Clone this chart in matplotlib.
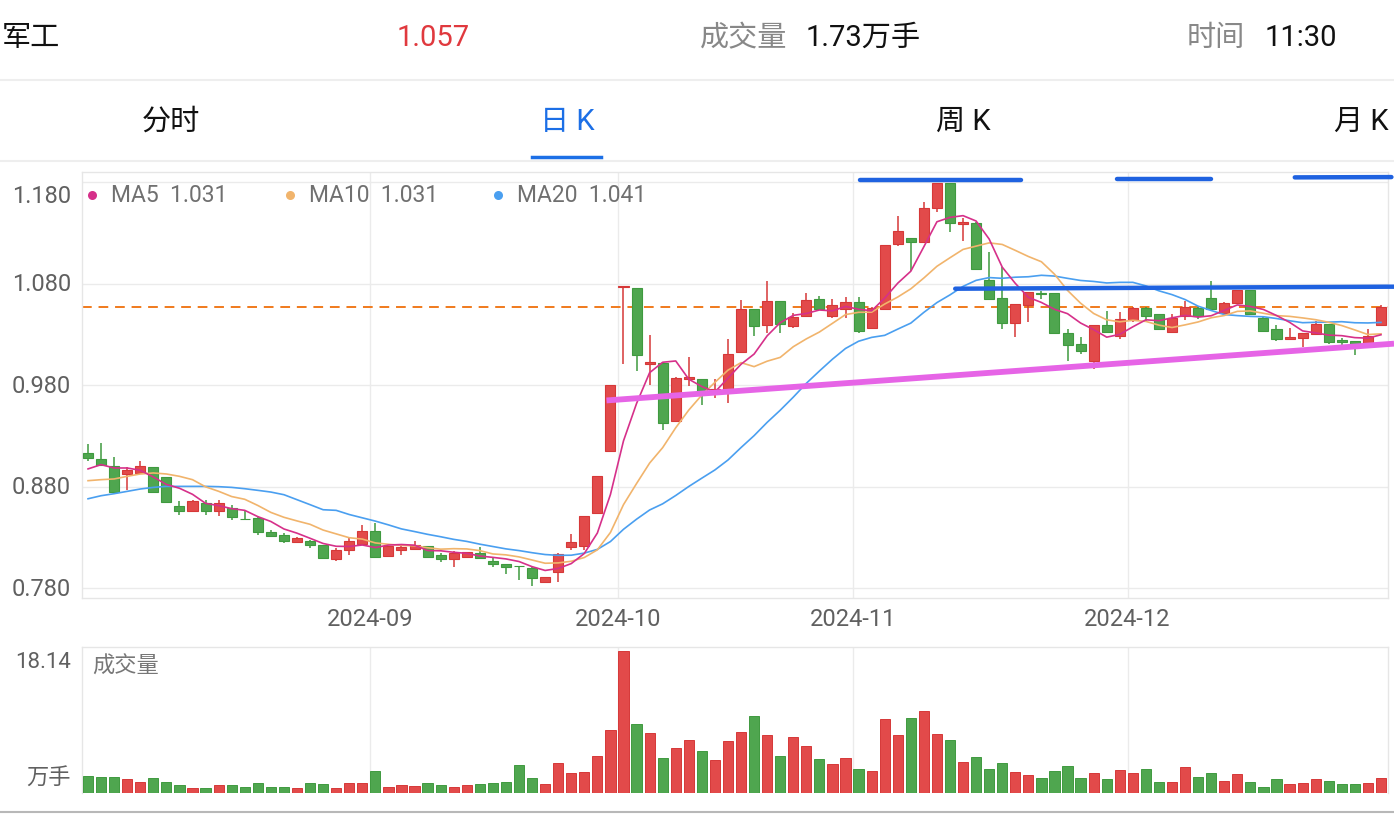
import numpy as np
import pandas as pd
import matplotlib
matplotlib.use("Agg")
import matplotlib.pyplot as plt
from matplotlib.transforms import blended_transform_factory, ScaledTranslation
from matplotlib.patches import Rectangle
from matplotlib.lines import Line2D

plt.rcParams['font.family'] = ['Roboto', 'Noto Sans CJK SC', 'DejaVu Sans']

# ---------------- data ----------------
opens = [0.9130, 0.9076, 0.9000, 0.8920, 0.8930, 0.8990, 0.8900, 0.8606, 0.8556, 0.8638,
         0.8556, 0.8589, 0.8484, 0.8490, 0.8349, 0.8326, 0.8254, 0.8267, 0.8221, 0.8090,
         0.8178, 0.8234, 0.8366, 0.8113, 0.8172, 0.8188, 0.8218, 0.8129, 0.8090, 0.8106,
         0.8145, 0.8073, 0.8040, 0.8020, 0.7997, 0.7866, 0.7964, 0.8204, 0.8218, 0.8545,
         0.9149, 1.0770, 1.0754, 1.0011, 1.0020, 0.9445, 0.9856, 0.9856, 0.9720, 0.9757,
         1.0126, 1.0546, 1.0389, 1.0629, 1.0382, 1.0481, 1.0652, 1.0481, 1.0547, 1.0619,
         1.0366, 1.0547, 1.1188, 1.1247, 1.1211, 1.1540, 1.1790, 1.1382, 1.1395, 1.0836,
         1.0662, 1.0408, 1.0586, 1.0705, 1.0704, 1.0310, 1.0208, 1.0037, 1.0392, 1.0284,
         1.0441, 1.0563, 1.0497, 1.0323, 1.0481, 1.0563, 1.0655, 1.0514, 1.0612, 1.0737,
         1.0464, 1.0349, 1.0257, 1.0267, 1.0300, 1.0398, 1.0247, 1.0231, 1.0194, 1.0395]
highs = [0.9220, 0.9231, 0.9090, 0.8990, 0.9050, 0.8990, 0.8900, 0.8655, 0.8665, 0.8671,
         0.8671, 0.8622, 0.8556, 0.8507, 0.8369, 0.8342, 0.8300, 0.8277, 0.8224, 0.8195,
         0.8294, 0.8425, 0.8442, 0.8220, 0.8228, 0.8261, 0.8220, 0.8145, 0.8162, 0.8155,
         0.8211, 0.8096, 0.8043, 0.8024, 0.8014, 0.7915, 0.8145, 0.8336, 0.8514, 0.8908,
         0.9803, 1.0777, 1.0754, 1.0293, 1.0020, 0.9883, 1.0075, 0.9860, 0.9856, 1.0258,
         1.0639, 1.0550, 1.0826, 1.0632, 1.0514, 1.0704, 1.0678, 1.0645, 1.0668, 1.0668,
         1.0566, 1.1182, 1.1468, 1.1250, 1.1600, 1.1793, 1.1793, 1.1448, 1.1408, 1.1106,
         1.0958, 1.0599, 1.0721, 1.0728, 1.0711, 1.0350, 1.0273, 1.0395, 1.0530, 1.0520,
         1.0566, 1.0566, 1.0500, 1.0497, 1.0629, 1.0566, 1.0820, 1.0615, 1.0737, 1.0740,
         1.0467, 1.0389, 1.0366, 1.0313, 1.0431, 1.0401, 1.0260, 1.0234, 1.0349, 1.0586]
lows = [0.9050, 0.9001, 0.8740, 0.8770, 0.8930, 0.8740, 0.8650, 0.8524, 0.8556, 0.8524,
        0.8514, 0.8474, 0.8478, 0.8326, 0.8303, 0.8244, 0.8244, 0.8201, 0.8093, 0.8073,
        0.8129, 0.8228, 0.8103, 0.8110, 0.8129, 0.8185, 0.8100, 0.8057, 0.8014, 0.8103,
        0.8093, 0.8014, 0.7938, 0.7882, 0.7823, 0.7866, 0.7859, 0.8178, 0.8178, 0.8545,
        0.9149, 1.0011, 0.9939, 0.9800, 0.9362, 0.9440, 0.9790, 0.9609, 0.9672, 0.9626,
        1.0120, 1.0283, 1.0316, 1.0316, 1.0366, 1.0478, 1.0550, 1.0465, 1.0458, 1.0316,
        1.0363, 1.0544, 1.1172, 1.0925, 1.1208, 1.1507, 1.1303, 1.1221, 1.0940, 1.0650,
        1.0356, 1.0277, 1.0422, 1.0645, 1.0313, 1.0037, 1.0103, 0.9955, 1.0320, 1.0251,
        1.0420, 1.0431, 1.0346, 1.0320, 1.0441, 1.0454, 1.0544, 1.0500, 1.0600, 1.0494,
        1.0323, 1.0234, 1.0254, 1.0179, 1.0290, 1.0201, 1.0171, 1.0099, 1.0174, 1.0392]
closes = [0.9080, 0.9017, 0.8750, 0.8960, 0.9000, 0.8750, 0.8650, 0.8563, 0.8661, 0.8556,
          0.8638, 0.8500, 0.8480, 0.8352, 0.8316, 0.8270, 0.8294, 0.8228, 0.8096, 0.8178,
          0.8261, 0.8366, 0.8103, 0.8218, 0.8205, 0.8228, 0.8103, 0.8090, 0.8145, 0.8152,
          0.8096, 0.8037, 0.8014, 0.8017, 0.7899, 0.7909, 0.8136, 0.8253, 0.8514, 0.8908,
          0.9803, 1.0777, 1.0093, 1.0030, 0.9422, 0.9866, 0.9879, 0.9731, 0.9760, 1.0109,
          1.0546, 1.0382, 1.0629, 1.0405, 1.0471, 1.0639, 1.0553, 1.0586, 1.0622, 1.0333,
          1.0563, 1.1179, 1.1320, 1.1211, 1.1540, 1.1790, 1.1395, 1.1405, 1.0947, 1.0652,
          1.0408, 1.0596, 1.0718, 1.0694, 1.0316, 1.0192, 1.0136, 1.0392, 1.0323, 1.0455,
          1.0563, 1.0481, 1.0349, 1.0464, 1.0573, 1.0481, 1.0547, 1.0612, 1.0734, 1.0497,
          1.0333, 1.0251, 1.0277, 1.0310, 1.0398, 1.0224, 1.0224, 1.0181, 1.0283, 1.0567]
volumes = [2.13, 2.00, 1.96, 1.71, 1.41, 1.83, 1.37, 0.94, 0.55, 0.64,
           0.98, 0.98, 0.77, 1.28, 0.77, 0.68, 0.64, 1.28, 1.07, 0.64,
           1.28, 1.28, 2.73, 0.68, 1.02, 0.81, 1.19, 1.02, 0.77, 1.02,
           1.07, 1.28, 1.41, 3.50, 1.83, 1.15, 3.84, 2.47, 2.65, 4.69,
           8.02, 18.14, 8.75, 7.64, 4.39, 5.76, 6.70, 5.29, 4.22, 6.61,
           7.77, 9.77, 7.38, 4.69, 7.13, 5.97, 4.31, 3.67, 4.48, 3.07,
           2.77, 9.43, 7.42, 9.56, 10.41, 7.47, 6.74, 3.97, 4.57, 2.99,
           3.84, 2.69, 2.26, 1.83, 2.77, 3.46, 1.83, 2.56, 1.71, 2.94,
           2.52, 3.03, 1.37, 1.41, 3.29, 1.96, 2.56, 1.54, 2.39, 1.37,
           0.77, 1.71, 1.07, 1.28, 1.75, 1.49, 1.15, 1.11, 1.28, 1.92]

# moving-average values before enough history exists in the window
ma5_head = [0.8975, 0.9017, 0.8984, 0.8984]
ma10_head = [0.8859, 0.8869, 0.8876, 0.8902, 0.8925, 0.8935, 0.8925, 0.8902, 0.8869]
ma20_head = [0.8681, 0.8711, 0.8731, 0.8754, 0.8777, 0.8793, 0.8803, 0.8803, 0.8803,
             0.8803, 0.8800, 0.8793, 0.8780, 0.8764, 0.8747, 0.8721, 0.8672, 0.8623, 0.8573]

month_labels = ["2024-09", "2024-10", "2024-11", "2024-12"]
month_start_idx = [22, 41, 59, 80]
price_ticks = [0.780, 0.880, 0.980, 1.080, 1.180]
ma_names = ["MA5", "MA10", "MA20"]
ma_legend_values = ["1.031", "1.031", "1.041"]
last_price = 1.057
vol_max_label = "18.14"

# hand-drawn annotation lines (index, price)
magenta_line = [(39.7, 0.9649), (100.0, 1.0208)]
support_blue_line = [(66.4, 1.0749), (100.0, 1.0769)]
top_blue_segments = [[(59.1, 1.1822), (71.4, 1.1822)],
                     [(78.8, 1.1832), (86.0, 1.1832)],
                     [(92.4, 1.1845), (99.8, 1.1848)]]

header_name = "军工"
header_price = "1.057"
header_vol_label = "成交量"
header_vol = "1.73万手"
header_time_label = "时间"
header_time = "11:30"
tabs = ["分时", "日 K", "周 K", "月 K"]

# ---------------- style ----------------
RED = '#e24a4a'
RED_E = '#d63838'
GREEN = '#4fa64f'
GREEN_E = '#3f9a3f'
C_MA5 = '#d6308a'
C_MA10 = '#f1b46c'
C_MA20 = '#4a9ff0'
GRID = '#ebebeb'
TXT = '#606060'

W, H = 1394, 814
fig = plt.figure(figsize=(W / 100, H / 100), dpi=100)
fig.patch.set_facecolor('white')

def fx(x):
    return x / W

def fy(y):
    return 1 - y / H

# price axes
ax = fig.add_axes([fx(81.5), fy(597.7), fx(1387.5) - fx(81.5), fy(172.3) - fy(597.7)])
axv = fig.add_axes([fx(81.5), fy(792.7), fx(1387.5) - fx(81.5), fy(647.3) - fy(792.7)])

n = len(closes)
idx = np.arange(n)
o = np.array(opens); c = np.array(closes); hi = np.array(highs); lo = np.array(lows)
up = c >= o
bw = 0.77

for i in range(n):
    col = RED if up[i] else GREEN
    ecol = RED_E if up[i] else GREEN_E
    ax.plot([i, i], [lo[i], hi[i]], color=ecol, lw=1.1, zorder=3, solid_capstyle='butt')
    bottom = min(o[i], c[i])
    height = max(abs(c[i] - o[i]), 0.0006)
    ax.add_patch(Rectangle((i - bw / 2, bottom), bw, height, facecolor=col,
                           edgecolor=ecol, lw=0.8, zorder=4))

cs = pd.Series(closes)
def ma(nwin, head):
    m = cs.rolling(nwin).mean().to_numpy()
    m[:len(head)] = head
    return m

ax.plot(idx, ma(20, ma20_head), color=C_MA20, lw=1.2, zorder=5)
ax.plot(idx, ma(10, ma10_head), color=C_MA10, lw=1.2, zorder=5)
ax.plot(idx, ma(5, ma5_head), color=C_MA5, lw=1.2, zorder=6)

ax.axhline(last_price, color='#f07a1c', lw=1.4, dashes=(5, 3.5), zorder=2)

# annotations
(xa, ya), (xb, yb) = magenta_line
ax.plot([xa, xb], [ya, yb], color='#e664e6', lw=4.2, solid_capstyle='butt', zorder=7, clip_on=False)
(xa, ya), (xb, yb) = support_blue_line
ax.plot([xa, xb], [ya, yb], color='#1f62e0', lw=3.2, solid_capstyle='round', zorder=7, clip_on=False)
for seg in top_blue_segments:
    (xa, ya), (xb, yb) = seg
    ax.plot([xa, xb], [ya, yb], color='#1f62e0', lw=3.2, solid_capstyle='round', zorder=7, clip_on=False)

ax.set_xlim(-0.5, n - 0.5)
ax.set_ylim(0.7707, 1.1895)
for t in price_ticks:
    ax.axhline(t, color=GRID, lw=1.0, zorder=0)
for m in month_start_idx:
    ax.axvline(m - 0.4, color=GRID, lw=1.0, zorder=0)
    axv.axvline(m - 0.4, color=GRID, lw=1.0, zorder=0)
ax.set_xticks([]); ax.set_yticks([])
for s in ax.spines.values():
    s.set_color('#e6e6e6'); s.set_linewidth(1.0)

# price tick labels
tr = blended_transform_factory(fig.transFigure, ax.transData)
for t in price_ticks:
    off = ScaledTranslation(0, -0.15 if t == price_ticks[-1] else -0.01, fig.dpi_scale_trans)
    ax.text(fx(71), t, f"{t:.3f}", transform=tr + off, ha='right', va='center',
            fontsize=17, color=TXT)

# month labels
trx = blended_transform_factory(ax.transData, fig.transFigure)
for lab, m in zip(month_labels, month_start_idx):
    ax.text(m - 0.4, fy(619), lab, transform=trx, ha='center', va='center',
            fontsize=17, color=TXT, clip_on=False)

# legend
leg_x = [92, 290, 498]
leg_cols = [C_MA5, C_MA10, C_MA20]
for lx, nm, val, col in zip(leg_x, ma_names, ma_legend_values, leg_cols):
    fig.add_artist(Line2D([fx(lx)], [fy(195)], marker='o', markersize=6.5, color=col,
                          markeredgewidth=0, transform=fig.transFigure))
    fig.text(fx(lx + 19), fy(195), f"{nm}  {val}", ha='left', va='center',
             fontsize=16.5, color='#707070')

# volume
vcols = [RED if u else GREEN for u in up]
vecols = [RED_E if u else GREEN_E for u in up]
axv.bar(idx, volumes, width=0.78, color=vcols, edgecolor=vecols, lw=0.7, zorder=3)
axv.set_xlim(-0.5, n - 0.5)
axv.set_ylim(0, 18.61)
axv.set_xticks([]); axv.set_yticks([])
for k, s in axv.spines.items():
    s.set_color('#e6e6e6'); s.set_linewidth(1.0)
axv.spines['bottom'].set_visible(False)
fig.text(fx(71), fy(663), vol_max_label, ha='right', va='center', fontsize=16, color=TXT)
fig.text(fx(71), fy(778), "万手", ha='right', va='center', fontsize=16, color=TXT)
fig.text(fx(92), fy(667), header_vol_label, ha='left', va='center', fontsize=16, color='#777777')

# header
fig.text(fx(2), fy(38), header_name, ha='left', va='center', fontsize=21, color='#111111')
fig.text(fx(433), fy(38), header_price, ha='center', va='center', fontsize=21, color='#e0393e')
fig.text(fx(700), fy(38), header_vol_label, ha='left', va='center', fontsize=21, color='#888888')
fig.text(fx(806), fy(38), header_vol, ha='left', va='center', fontsize=21, color='#111111')
fig.text(fx(1187), fy(38), header_time_label, ha='left', va='center', fontsize=21, color='#888888')
fig.text(fx(1265), fy(38), header_time, ha='left', va='center', fontsize=21, color='#111111')

tab_x = [171, 567, 963, 1361]
for tx, tl in zip(tab_x, tabs):
    col = '#1c6fe6' if tl.startswith("日") else '#111111'
    fig.text(fx(tx), fy(122), tl, ha='center', va='center', fontsize=21, color=col)

fig.add_artist(Line2D([0, 1], [fy(80), fy(80)], color='#eeeeee', lw=1.5, transform=fig.transFigure))
fig.add_artist(Line2D([0, 1], [fy(160.5), fy(160.5)], color='#eeeeee', lw=1.5, transform=fig.transFigure))
fig.add_artist(Line2D([fx(532), fx(601)], [fy(157), fy(157)], color='#1c6fe6', lw=2.5,
                      transform=fig.transFigure))
fig.add_artist(Line2D([0, 1], [fy(812), fy(812)], color='#b8b8b8', lw=1.5, transform=fig.transFigure))

fig.savefig("out.png", dpi=100, facecolor='white')
